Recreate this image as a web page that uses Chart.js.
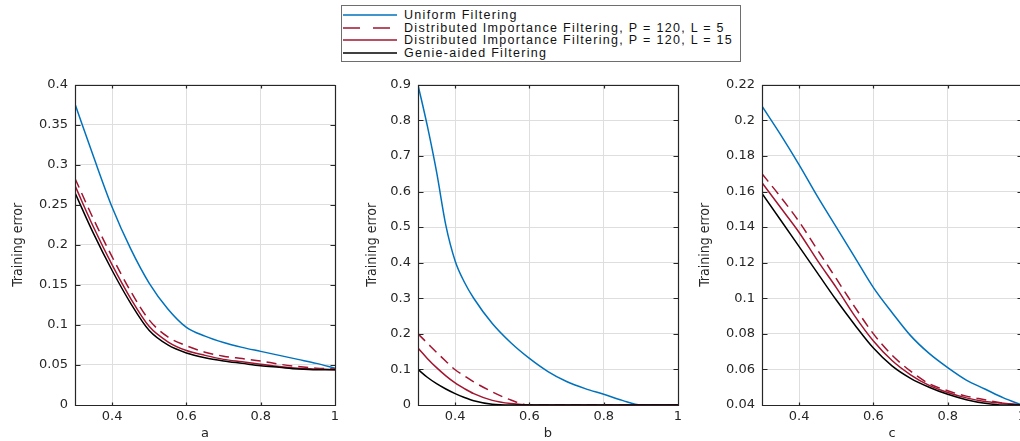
<!DOCTYPE html>
<html>
<head>
<meta charset="utf-8">
<title>Training error</title>
<script src="https://cdn.jsdelivr.net/npm/chart.js@4.4.1/dist/chart.umd.min.js"></script>
<style>
  html, body { margin: 0; padding: 0; background: #fff; overflow: hidden; }
  body { position: relative; width: 1020px; height: 441px; }
  .panel { position: absolute; top: 70px; width: 345px; height: 371px; }
  #legend {
    position: absolute; left: 341px; top: 5px; width: 400px; height: 57px;
    box-sizing: border-box; border: 1px solid #6e6e6e; padding-top: 3px;
    font: 12.5px "Liberation Sans", Arial, sans-serif; letter-spacing: 1.3px; color: #111;
  }
  .row { display: flex; align-items: center; height: 12.5px; white-space: nowrap; }
  .row svg { margin-left: 1px; margin-right: 7px; flex: none; }
</style>
</head>
<body>
<div id="legend"></div>
<div class="panel" style="left:0px"><canvas id="chart-a"></canvas></div>
<div class="panel" style="left:345px"><canvas id="chart-b"></canvas></div>
<div class="panel" style="left:690px"><canvas id="chart-c"></canvas></div>
<script>
const seriesNames = [
  'Uniform Filtering',
  'Distributed Importance Filtering, P = 120, L = 5',
  'Distributed Importance Filtering, P = 120, L = 15',
  'Genie-aided Filtering'
];

const xValues = [0.3, 0.35, 0.4, 0.45, 0.5, 0.55, 0.6, 0.65, 0.7, 0.75, 0.8, 0.85, 0.9, 0.95, 1.0];
const xValuesB = [0.3, 0.325, 0.35, 0.375, 0.4, 0.425, 0.45, 0.5, 0.55, 0.6, 0.65, 0.7, 0.75, 0.8, 0.85, 0.9, 0.95, 1.0];
const xTicks = [0.4, 0.6, 0.8, 1];

// panel a
const uniformA = [0.376, 0.31, 0.247, 0.195, 0.152, 0.12, 0.097, 0.086, 0.078, 0.072, 0.067, 0.062, 0.057, 0.052, 0.046];
const dif5A    = [0.283, 0.232, 0.185, 0.142, 0.106, 0.085, 0.074, 0.066, 0.061, 0.058, 0.055, 0.051, 0.048, 0.046, 0.045];
const dif15A   = [0.274, 0.222, 0.175, 0.133, 0.098, 0.079, 0.068, 0.062, 0.057, 0.054, 0.051, 0.048, 0.046, 0.045, 0.044];
const genieA   = [0.265, 0.214, 0.168, 0.127, 0.093, 0.075, 0.065, 0.059, 0.055, 0.052, 0.049, 0.047, 0.045, 0.044, 0.044];
const yTicksA  = [0, 0.05, 0.1, 0.15, 0.2, 0.25, 0.3, 0.35, 0.4];

// panel b (denser x steps where the curves fall fast)
const uniformB = [0.9, 0.785, 0.655, 0.505, 0.405, 0.345, 0.3, 0.229, 0.175, 0.131, 0.094, 0.066, 0.046, 0.03, 0.013, 0, 0, 0];
const dif5B    = [0.2, 0.174, 0.148, 0.123, 0.099, 0.082, 0.065, 0.037, 0.014, 0, 0, 0, 0, 0, 0, 0, 0, 0];
const dif15B   = [0.16, 0.131, 0.105, 0.082, 0.062, 0.046, 0.032, 0.013, 0.004, 0, 0, 0, 0, 0, 0, 0, 0, 0];
const genieB   = [0.1, 0.078, 0.06, 0.045, 0.032, 0.021, 0.012, 0.002, 0, 0, 0, 0, 0, 0, 0, 0, 0, 0];
const yTicksB  = [0, 0.1, 0.2, 0.3, 0.4, 0.5, 0.6, 0.7, 0.8, 0.9];

// panel c
const uniformC = [0.208, 0.192, 0.175, 0.157, 0.14, 0.123, 0.106, 0.092, 0.079, 0.069, 0.061, 0.054, 0.049, 0.044, 0.04];
const dif5C    = [0.17, 0.157, 0.143, 0.127, 0.111, 0.095, 0.08, 0.068, 0.059, 0.052, 0.048, 0.045, 0.043, 0.041, 0.04];
const dif15C   = [0.165, 0.151, 0.137, 0.121, 0.106, 0.09, 0.076, 0.065, 0.057, 0.051, 0.047, 0.044, 0.042, 0.041, 0.04];
const genieC   = [0.159, 0.144, 0.129, 0.114, 0.099, 0.085, 0.072, 0.062, 0.055, 0.05, 0.046, 0.043, 0.041, 0.04, 0.04];
const yTicksC  = [0.04, 0.06, 0.08, 0.1, 0.12, 0.14, 0.16, 0.18, 0.2, 0.22];

const lineStyles = [
  { color: '#0072BD', dash: [] },
  { color: '#A2142F', dash: [10, 6] },
  { color: '#A2142F', dash: [] },
  { color: '#000000', dash: [] }
];

// legend box shared by the three panels
const legendEl = document.getElementById('legend');
seriesNames.forEach((name, i) => {
  const st = lineStyles[i];
  const row = document.createElement('div');
  row.className = 'row';
  const dash = st.dash.length ? ' stroke-dasharray="17 13"' : '';
  row.innerHTML = `<svg width="54" height="4"><line x1="0" y1="2" x2="54" y2="2" stroke="${st.color}" stroke-width="1.3"${dash}/></svg><span>${name}</span>`;
  legendEl.appendChild(row);
});

const fmt = v => String(+v.toFixed(2));
const tickFont = { family: '"DejaVu Sans", sans-serif', size: 13 };

// closed axes box with inward tick marks
const axesBox = {
  id: 'axesBox',
  afterDatasetsDraw(chart) {
    const { ctx, chartArea: a, scales: { x, y } } = chart;
    const l = Math.round(a.left) + 0.5, r = Math.round(a.right) + 0.5;
    const t = Math.round(a.top) + 0.5, b = Math.round(a.bottom) + 0.5;
    ctx.save();
    ctx.strokeStyle = '#262626';
    ctx.lineWidth = 1.2;
    ctx.beginPath();
    ctx.rect(l, t, r - l, b - t);
    x.ticks.forEach(tk => {
      const px = Math.round(x.getPixelForValue(tk.value)) + 0.5;
      ctx.moveTo(px, b); ctx.lineTo(px, b - 3);
      ctx.moveTo(px, t); ctx.lineTo(px, t + 3);
    });
    y.ticks.forEach(tk => {
      const py = Math.round(y.getPixelForValue(tk.value)) + 0.5;
      ctx.moveTo(l, py); ctx.lineTo(l + 5, py);
      ctx.moveTo(r, py); ctx.lineTo(r - 5, py);
    });
    ctx.stroke();
    ctx.restore();
  }
};

function makePanel(id, letter, xs, series, yTicks, box) {
  const datasets = series.map((vals, i) => ({
    label: seriesNames[i],
    data: xs.map((xv, k) => ({ x: xv, y: vals[k] })),
    borderColor: lineStyles[i].color,
    borderDash: lineStyles[i].dash,
    borderWidth: 1.5,
    pointRadius: 0,
    cubicInterpolationMode: 'monotone',
    order: series.length - i
  }));

  return new Chart(document.getElementById(id), {
    type: 'line',
    data: { datasets },
    options: {
      responsive: true,
      maintainAspectRatio: false,
      animation: false,
      events: [],
      layout: { padding: { top: 14, right: box.right, bottom: 0, left: 0 } },
      plugins: { legend: { display: false }, tooltip: { enabled: false } },
      scales: {
        x: {
          type: 'linear',
          min: 0.3,
          max: 1,
          afterBuildTicks: s => { s.ticks = xTicks.map(v => ({ value: v })); },
          afterFit: s => { s.height = 36; },
          grid: { color: '#dedede', drawTicks: false },
          border: { display: false },
          ticks: { autoSkip: false, maxRotation: 0, padding: 4, color: '#262626', font: tickFont, callback: fmt },
          title: {
            display: true, text: letter, color: '#262626', padding: 0,
            font: { family: '"DejaVu Sans", sans-serif', size: 13 }
          }
        },
        y: {
          min: yTicks[0],
          max: yTicks[yTicks.length - 1],
          afterBuildTicks: s => { s.ticks = yTicks.map(v => ({ value: v })); },
          afterFit: s => { s.width = box.axisWidth; },
          grid: { color: '#dedede', drawTicks: false },
          border: { display: false },
          ticks: { autoSkip: false, padding: 7, color: '#262626', font: tickFont, callback: fmt },
          title: {
            display: true, text: 'Training error', color: '#262626',
            padding: { top: box.titlePad, bottom: 0 },
            font: { family: '"Liberation Sans Narrow", "DejaVu Sans Condensed", sans-serif', size: 14 }
          }
        }
      }
    },
    plugins: [axesBox]
  });
}

makePanel('chart-a', 'a', xValues, [uniformA, dif5A, dif15A, genieA], yTicksA, { axisWidth: 75, right: 10, titlePad: 9.6 });
makePanel('chart-b', 'b', xValuesB, [uniformB, dif5B, dif15B, genieB], yTicksB, { axisWidth: 73, right: 12, titlePad: 18.6 });
makePanel('chart-c', 'c', xValues, [uniformC, dif5C, dif15C, genieC], yTicksC, { axisWidth: 72, right: 13, titlePad: 6.6 });
</script>
</body>
</html>
